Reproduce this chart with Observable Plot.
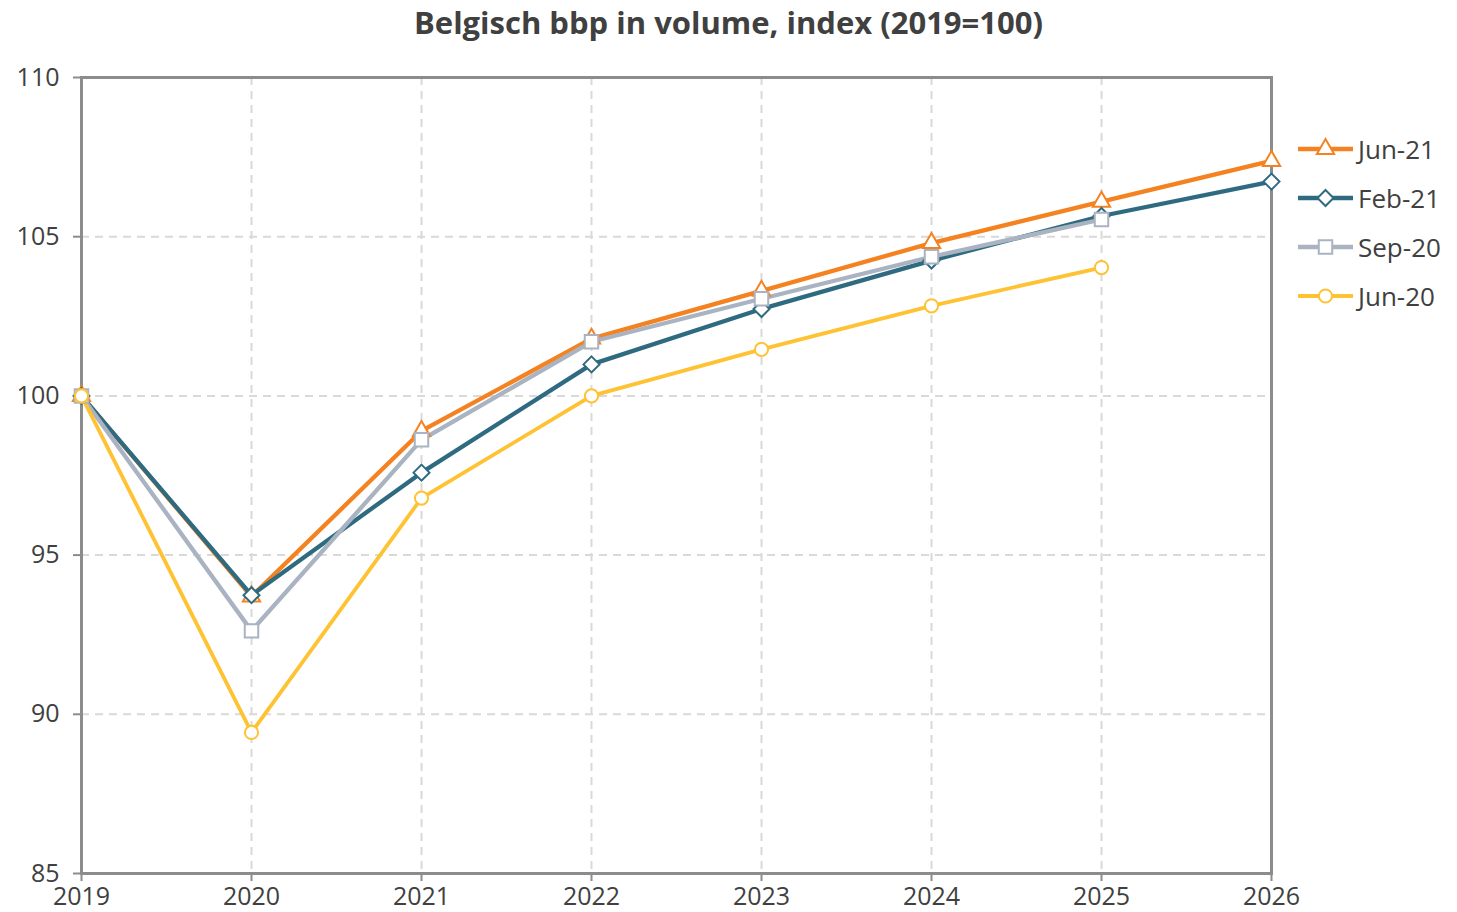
<!DOCTYPE html>
<html>
<head>
<meta charset="utf-8">
<script src="https://cdn.jsdelivr.net/npm/d3@7"></script>
<script src="https://cdn.jsdelivr.net/npm/@observablehq/plot@0.6"></script>
<style>
  html, body { margin: 0; padding: 0; background: #fff; }
  body { width: 1457px; height: 912px; position: relative; overflow: hidden; font-family: "Open Sans", sans-serif; color: #404040; }
  #title { position: absolute; left: 0; top: 0; width: 1457px; height: 44px; line-height: 44px; text-align: center; font-weight: bold; font-size: 31px; color: #404040; }
  #chart { position: absolute; left: 0; top: 46px; }
  #legend { position: absolute; left: 1298px; top: 124px; }
  .row { display: flex; align-items: center; height: 49px; font-size: 26px; color: #404040; }
  .row svg { margin-right: 4px; }
</style>
</head>
<body>
<div id="title">Belgisch bbp in volume, index (2019=100)</div>
<div id="chart"></div>
<div id="legend"></div>
<script>
const years = [2019, 2020, 2021, 2022, 2023, 2024, 2025, 2026];
const seriesNames = ["Jun-21", "Feb-21", "Sep-20", "Jun-20"];
const jun21 = [100, 93.7, 98.9, 101.8, 103.3, 104.8, 106.1, 107.38];
const feb21 = [100, 93.74, 97.59, 100.99, 102.73, 104.25, 105.65, 106.73];
const sep20 = [100, 92.62, 98.62, 101.7, 103.05, 104.37, 105.54];
const jun20 = [100, 89.43, 96.79, 100, 101.46, 102.83, 104.03];
const colors = ["#F58220", "#2E6B80", "#A9B3C1", "#FEC232"];
const symbols = ["triangle", "diamond2", "square", "circle"];
const yTicks = [85, 90, 95, 100, 105, 110];
const gridYears = [2020, 2021, 2022, 2023, 2024, 2025];
const gridValues = [90, 95, 100, 105];

const seriesValues = [jun21, feb21, sep20, jun20];
const data = [];
seriesValues.forEach((vals, i) => vals.forEach((v, j) => data.push({series: seriesNames[i], year: years[j], value: v})));

const symbolR = {"triangle": 6.4, "diamond2": 7.2, "square": 7.6, "circle": 6.6};
const d3Symbols = {"triangle": d3.symbolTriangle, "diamond2": d3.symbolDiamond2, "square": d3.symbolSquare, "circle": d3.symbolCircle};
const lineW = [4.3, 4.3, 4.3, 3.8];
const fontStack = "'Open Sans', sans-serif";

const marks = [
  Plot.ruleX(gridYears, {x: d => d, stroke: "#d9d9d9", strokeWidth: 2, strokeDasharray: "8,6"}),
  Plot.ruleY(gridValues, {y: d => d, stroke: "#d9d9d9", strokeWidth: 2, strokeDasharray: "8,6"}),
  Plot.frame({stroke: "#8c8c8c", strokeWidth: 3}),
  Plot.axisY({ticks: yTicks, tickSize: 8, tickPadding: 14, stroke: "#8c8c8c", strokeWidth: 2, fill: "#404040", fontSize: 25, label: null}),
  Plot.axisX({ticks: years, tickSize: 8, tickPadding: 6, stroke: "#8c8c8c", strokeWidth: 2, fill: "#404040", fontSize: 25, tickFormat: d => String(d), label: null})
];
seriesNames.forEach((name, i) => {
  const sub = data.filter(d => d.series === name);
  marks.push(Plot.line(sub, {x: "year", y: "value", stroke: colors[i], strokeWidth: lineW[i]}));
});
seriesNames.forEach((name, i) => {
  const sub = data.filter(d => d.series === name);
  marks.push(Plot.dot(sub, {x: "year", y: "value", symbol: () => symbols[i], r: symbolR[symbols[i]], fill: "white", stroke: colors[i], strokeWidth: 2}));
});

const chart = Plot.plot({
  width: 1457,
  height: 866,
  marginLeft: 81,
  marginRight: 186,
  marginTop: 31,
  marginBottom: 39,
  x: {domain: [2019, 2026], axis: null},
  y: {domain: [85, 110], axis: null},
  symbol: {type: "identity"},
  style: {fontFamily: fontStack, fontSize: "25px", color: "#404040", background: "white"},
  marks
});
document.getElementById("chart").appendChild(chart);

// legend
const legend = d3.select("#legend");
seriesNames.forEach((name, i) => {
  const row = legend.append("div").attr("class", "row");
  const svg = row.append("svg").attr("width", 56).attr("height", 24);
  svg.append("line").attr("x1", 0).attr("x2", 55).attr("y1", 12).attr("y2", 12)
    .attr("stroke", colors[i]).attr("stroke-width", lineW[i]);
  svg.append("path").attr("transform", "translate(27.5,12)")
    .attr("d", d3.symbol(d3Symbols[symbols[i]], Math.PI * symbolR[symbols[i]] ** 2)())
    .attr("fill", "white").attr("stroke", colors[i]).attr("stroke-width", 2);
  row.append("span").text(name);
});
</script>
</body>
</html>
